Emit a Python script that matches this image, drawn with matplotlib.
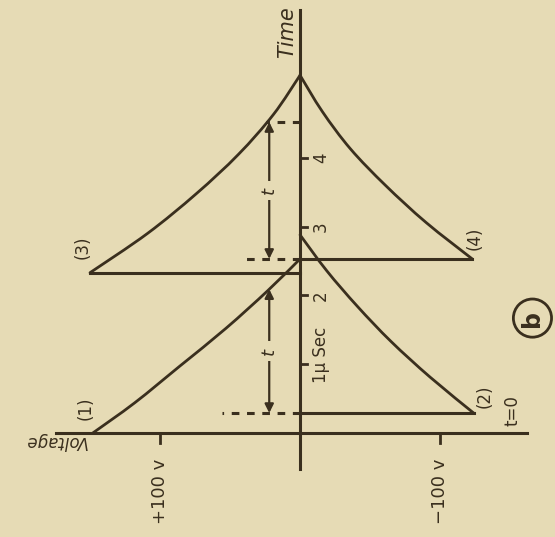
import numpy as np
import matplotlib
matplotlib.use('Agg')
import matplotlib.pyplot as plt
from matplotlib.path import Path
from matplotlib.patches import PathPatch

# pulse curves, voltage (V) vs time (micro sec)
c1_v = [148, 118, 86, 53, 23, 0]
c1_t = [0.0, 0.44, 0.97, 1.52, 2.07, 2.53]

c2_v = [-124, -93, -65, -41, -19, 0]
c2_t = [0.29, 0.81, 1.33, 1.84, 2.36, 2.88]

c3_v = [150, 109, 74, 44, 19, 0]
c3_t = [2.33, 2.90, 3.48, 4.05, 4.63, 5.20]

c4_v = [-123, -90, -61, -36, -16, 0]
c4_t = [2.53, 3.06, 3.60, 4.13, 4.67, 5.20]

# step (jump) lines: time, voltage
step_t = [0.29, 2.33, 2.53]
step_v = [-124, 150, -123]

time_ticks = [1, 2, 3, 4]
time_labels = ['1\u03bc Sec', '2', '3', '4']
volt_ticks = [100, -100]
volt_labels = ['+100 v', '\u2212100 v']

# dashed markers: (time, voltage reach)
dash_t = [0.29, 2.53, 4.52]
dash_v = [56, 41, 24]

# double arrows for "t"
arrow_v = 22
arrow_lo = [0.29, 2.53]
arrow_hi = [2.09, 4.52]

bg = '#e6dbb5'
ink = '#3a2f1e'


# smooth hand-drawn look: catmull-rom through the read points
def smooth(ax, xs, ys, lw):
    p = np.column_stack([xs, ys]).astype(float)
    p = np.vstack([p[0], p, p[-1]])
    verts = [p[1]]
    codes = [Path.MOVETO]
    for i in range(1, len(p) - 2):
        c1 = p[i] + (p[i + 1] - p[i - 1]) / 6
        c2 = p[i + 1] - (p[i + 2] - p[i]) / 6
        verts += [c1, c2, p[i + 1]]
        codes += [Path.CURVE4] * 3
    ax.add_patch(PathPatch(Path(verts, codes), fc='none', ec=ink, lw=lw,
                           capstyle='round', joinstyle='round'))


fig = plt.figure(figsize=(5.55, 5.37), dpi=100, facecolor=bg)
ax = fig.add_axes([0, 0, 1, 1])
ax.set_facecolor(bg)
ax.set_xlim(214.3, -182.1)
ax.set_ylim(-1.512, 6.294)
ax.axis('off')

# axes lines
ax.plot([0, 0], [-0.52, 6.15], color=ink, lw=2.2)
ax.plot([174, -162], [0, 0], color=ink, lw=2.2)

for tk in time_ticks:
    ax.plot([0, -5], [tk, tk], color=ink, lw=2)
for vk in volt_ticks:
    ax.plot([vk, vk], [0, -0.15], color=ink, lw=2)

lw = 2.0
for xs, ys in [(c1_v, c1_t), (c2_v, c2_t), (c3_v, c3_t), (c4_v, c4_t)]:
    smooth(ax, xs, ys, lw)
for t, v in zip(step_t, step_v):
    ax.plot([0, v], [t, t], color=ink, lw=2.2)

for t, v in zip(dash_t, dash_v):
    ax.plot([0, v], [t, t], color=ink, lw=2.2, ls=(0, (2.5, 2.5)))

for lo, hi in zip(arrow_lo, arrow_hi):
    ax.annotate('', xy=(arrow_v, hi), xytext=(arrow_v, lo),
                arrowprops=dict(arrowstyle='<|-|>', color=ink, lw=1.6,
                                shrinkA=0, shrinkB=0, mutation_scale=13))
    ax.text(arrow_v, (lo + hi) / 2, 't', rotation=90, ha='center', va='center',
            fontsize=13, color=ink, style='italic',
            bbox=dict(boxstyle='square,pad=0.35', fc=bg, ec='none'))

# text labels (rotated like the drawing)
txt = dict(color=ink, rotation=90, ha='center', va='center')
ax.text(9, 5.83, 'Time', fontsize=15, style='italic', **txt)
ax.text(175, -0.12, 'Voltage', fontsize=12, style='italic', color=ink,
        rotation=180, ha='center', va='center')
for tk, lab in zip(time_ticks, time_labels):
    ax.text(-15, tk if tk > 1 else 1.13, lab, fontsize=12, **txt)
for vk, lab in zip(volt_ticks, volt_labels):
    ax.text(vk, -0.85, lab, fontsize=13, **txt)

ax.text(153, 0.36, '(1)', fontsize=12, **txt)
ax.text(-132, 0.54, '(2)', fontsize=12, **txt)
ax.text(155, 2.70, '(3)', fontsize=12, **txt)
ax.text(-125, 2.83, '(4)', fontsize=12, **txt)
ax.text(-152, 0.32, 't=0', fontsize=12, **txt)
ax.text(-166, 1.67, 'b', fontsize=17, fontweight='bold',
        bbox=dict(boxstyle='circle,pad=0.3', fc='none', ec=ink, lw=2), **txt)

fig.savefig('out.png', dpi=100, facecolor=bg)
